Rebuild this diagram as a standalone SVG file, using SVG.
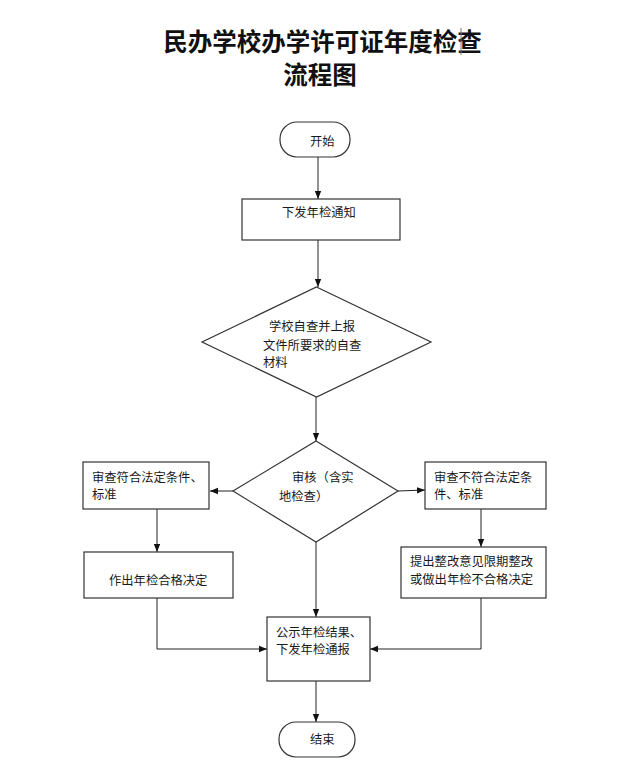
<svg xmlns="http://www.w3.org/2000/svg" width="624" height="776" viewBox="0 0 624 776">
<style>
  .t{font-family:"Noto Sans CJK SC","Noto Sans",sans-serif;font-size:12.3px;fill:#1a1a1a}
  .title{font-family:"Noto Sans CJK SC","Noto Sans",sans-serif;font-size:24.5px;font-weight:bold;fill:#111;text-anchor:middle}
  .box{fill:#fff;stroke:#333;stroke-width:1.2}
  .ln{fill:none;stroke:#222;stroke-width:1}
</style>
<defs>
  <marker id="ah" markerWidth="8" markerHeight="8" refX="8" refY="4" orient="auto" markerUnits="userSpaceOnUse">
    <path d="M0,0.8 L8,4 L0,7.2 Z" fill="#111"/>
  </marker>
</defs>
<rect width="624" height="776" fill="#fff"/>
<g id="title">
  <text class="title" x="322.5" y="51.3">民办学校办学许可证年度检查</text>
  <text class="title" x="320" y="84.3">流程图</text>
  <line x1="461" y1="28" x2="461" y2="55" stroke="#777" stroke-width="1"/>
</g>
<g id="connectors">
  <line class="ln" x1="318" y1="157" x2="318" y2="199" marker-end="url(#ah)"/>
  <line class="ln" x1="318" y1="240" x2="318" y2="287" marker-end="url(#ah)"/>
  <line class="ln" x1="316" y1="397" x2="316" y2="441" marker-end="url(#ah)"/>
  <line class="ln" x1="233" y1="491" x2="210" y2="491" marker-end="url(#ah)"/>
  <line class="ln" x1="398" y1="491" x2="425" y2="490" marker-end="url(#ah)"/>
  <line class="ln" x1="157" y1="509" x2="157" y2="552" marker-end="url(#ah)"/>
  <line class="ln" x1="481" y1="509" x2="481" y2="547" marker-end="url(#ah)"/>
  <line class="ln" x1="316" y1="542" x2="316" y2="617" marker-end="url(#ah)"/>
  <polyline class="ln" points="157,598 157,649 267,649" marker-end="url(#ah)"/>
  <polyline class="ln" points="481,598 481,649 370,649" marker-end="url(#ah)"/>
  <line class="ln" x1="316" y1="681" x2="316" y2="722" marker-end="url(#ah)"/>
</g>
<g id="start">
  <rect class="box" x="280" y="122" width="70" height="35" rx="17" ry="17"/>
  <text class="t" x="310" y="145.5">开始</text>
</g>
<g id="notice">
  <rect class="box" x="242" y="199" width="158" height="41"/>
  <text class="t" x="282" y="216.5">下发年检通知</text>
</g>
<g id="selfcheck">
  <polygon class="box" points="316.5,287 431,342 316.5,397 202,342"/>
  <text class="t" x="269" y="330.5">学校自查并上报</text>
  <text class="t" x="263" y="349.5">文件所要求的自查</text>
  <text class="t" x="263" y="367">材料</text>
</g>
<g id="review">
  <polygon class="box" points="316,441 398,491 316,542 233,491"/>
  <text class="t" x="292" y="481.5">审核（含实</text>
  <text class="t" x="279" y="500.5">地检查）</text>
</g>
<g id="pass">
  <rect class="box" x="83" y="462" width="126" height="47"/>
  <text class="t" x="92" y="481.5">审查符合法定条件、</text>
  <text class="t" x="92" y="498.5">标准</text>
</g>
<g id="fail">
  <rect class="box" x="425" y="462" width="121" height="47"/>
  <text class="t" x="434" y="481.5">审查不符合法定条</text>
  <text class="t" x="434" y="498.5">件、标准</text>
</g>
<g id="passdecision">
  <rect class="box" x="84" y="552" width="149" height="46"/>
  <text class="t" x="109" y="584.5">作出年检合格决定</text>
</g>
<g id="faildecision">
  <rect class="box" x="401" y="547" width="145" height="51"/>
  <text class="t" x="410" y="565.5">提出整改意见限期整改</text>
  <text class="t" x="410" y="583.5">或做出年检不合格决定</text>
</g>
<g id="publish">
  <rect class="box" x="267" y="617" width="103" height="64"/>
  <text class="t" x="276" y="636.5">公示年检结果、</text>
  <text class="t" x="276" y="653.5">下发年检通报</text>
</g>
<g id="end">
  <rect class="box" x="279" y="722" width="76" height="35" rx="17" ry="17"/>
  <text class="t" x="310" y="743.5">结束</text>
</g>
</svg>
